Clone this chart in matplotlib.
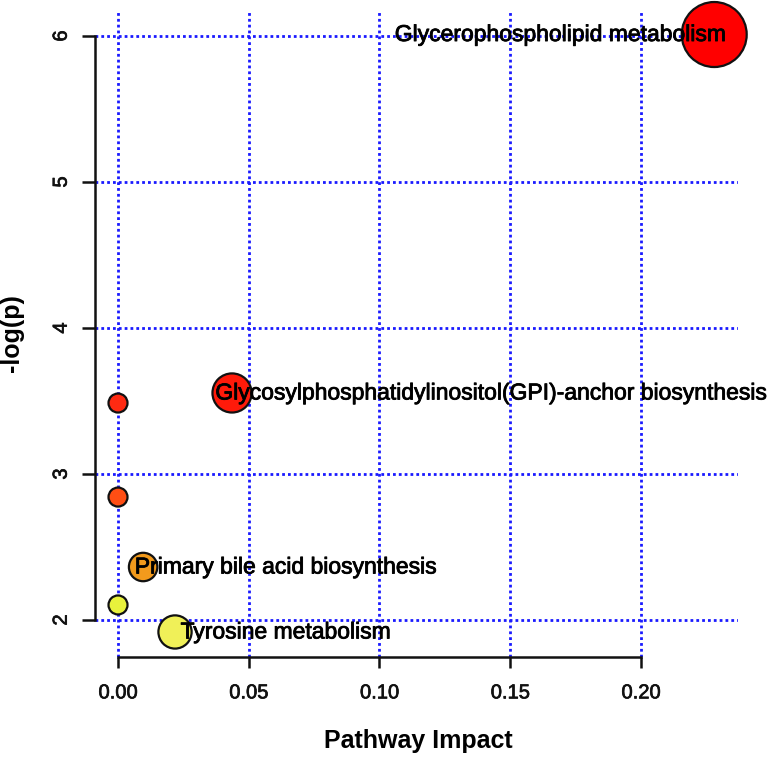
import matplotlib
matplotlib.use("Agg")
import matplotlib.pyplot as plt
import matplotlib.patheffects as pe
import numpy as np

plt.rcParams['font.family'] = ['Liberation Sans', 'DejaVu Sans']

# Data
pathways = ["Glycerophospholipid metabolism",
            "Glycosylphosphatidylinositol(GPI)-anchor biosynthesis",
            "", "", "Primary bile acid biosynthesis", "",
            "Tyrosine metabolism"]
impact = [0.228, 0.0436, 0.0, 0.0, 0.0096, 0.0, 0.0218]
neglogp = [6.01, 3.555, 3.486, 2.842, 2.363, 2.103, 1.918]
colors = ["#FF0000", "#FF1A0A", "#FF2A12", "#FF4E14", "#F29A1C", "#E8F23C", "#F0F058"]
xticks = [0.00, 0.05, 0.10, 0.15, 0.20]
yticks = [2, 3, 4, 5, 6]

W, H = 782, 759
fig = plt.figure(figsize=(W / 100, H / 100), dpi=100)
ax = fig.add_axes([95 / W, 1 - 657 / H, (738 - 95) / W, (657 - 10) / H])

ax.set_xlim(-0.0088, 0.2371)
ax.set_ylim(1.7466, 6.178)

thick = [pe.withStroke(linewidth=0.6, foreground="black")]

# grid
for xv in xticks:
    ax.axvline(xv, color="#1a1aff", lw=2.0, ls=(0, (1.0, 1.1)), zorder=1)
for yv in yticks:
    ax.axhline(yv, color="#1a1aff", lw=2.0, ls=(0, (1.0, 1.1)), zorder=1)

# marker sizes from impact (sqrt scaling like MetaboAnalyst)
sq = np.sqrt(np.array(impact))
rmin, rmax = 9.5, 32.5  # px
r_px = rmin + (rmax - rmin) * (sq - sq.min()) / (sq.max() - sq.min())
s = (2 * r_px * 0.72) ** 2

ax.scatter(impact, neglogp, s=s, c=colors, edgecolors="#111111",
           linewidths=1.6, zorder=3, clip_on=False)

# labels
offsets = {0: (-230, 0), 1: (-12, 0), 4: (-6, 0), 6: (4, 0)}
for i, name in enumerate(pathways):
    if not name:
        continue
    dx, dy = offsets.get(i, (0, 0))
    ax.annotate(name, (impact[i], neglogp[i]), xytext=(dx, dy),
                textcoords="offset points", ha="left", va="center",
                fontsize=16.5, color="black", zorder=4,
                annotation_clip=False, path_effects=thick)

# spines
for sp in ["top", "right"]:
    ax.spines[sp].set_visible(False)
ax.spines["left"].set_bounds(2, 6)
ax.spines["bottom"].set_bounds(0, 0.2)
for sp in ["left", "bottom"]:
    ax.spines[sp].set_linewidth(1.8)
    ax.spines[sp].set_color("#111111")

ax.set_xticks(xticks)
ax.set_xticklabels([f"{v:.2f}" for v in xticks], fontsize=14.5)
ax.set_yticks(yticks)
ax.set_yticklabels([str(v) for v in yticks], fontsize=14.5,
                   rotation=90, va="center")
ax.tick_params(axis="x", length=8, width=1.8, pad=11, colors="#111111")
ax.tick_params(axis="y", length=9.5, width=1.8, pad=8, colors="#111111")
for lab in ax.get_xticklabels() + ax.get_yticklabels():
    lab.set_path_effects([pe.withStroke(linewidth=0.5, foreground="#111111")])

ax.set_xlabel("Pathway Impact", fontsize=18, fontweight="bold")
ax.set_ylabel("-log(p)", fontsize=18, fontweight="bold")
ax.xaxis.set_label_coords((418 - 95) / (738 - 95), -(741 - 657) / (657 - 10))
ax.yaxis.set_label_coords(-(95 - 12) / (738 - 95), (657 - 333) / (657 - 10))
ax.xaxis.label.set_va("center")
ax.yaxis.label.set_va("center")

fig.savefig("out.png", dpi=100)
